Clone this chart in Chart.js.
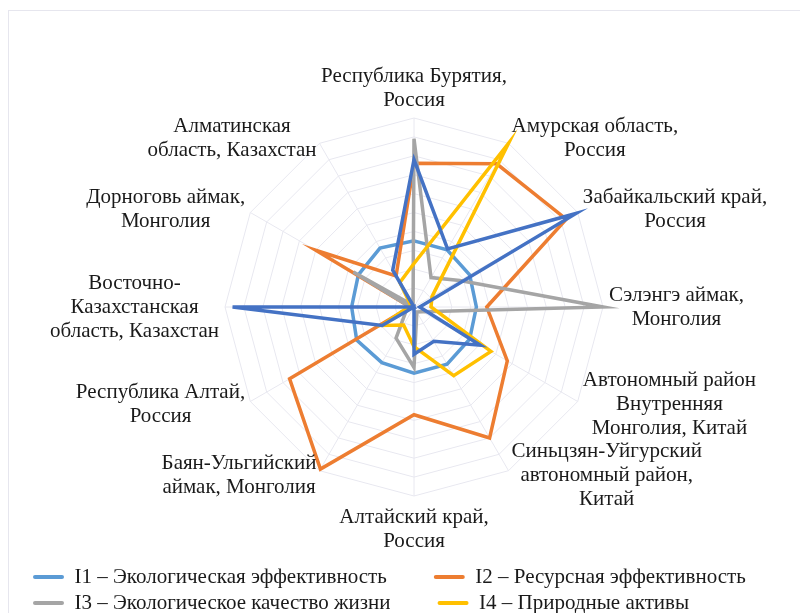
<!DOCTYPE html>
<html>
<head>
<meta charset="utf-8">
<script src="https://cdn.jsdelivr.net/npm/chart.js@4.4.1/dist/chart.umd.min.js"></script>
<style>
    html, body { margin: 0; padding: 0; background: #fff; overflow: hidden; }
    #frame { position: absolute; left: 8px; top: 10px; width: 900px; height: 900px; border: 1px solid #e6e6ee; }
    #wrap { position: absolute; left: 0; top: 0; width: 810px; height: 640px; }
</style>
</head>
<body>
<div id="frame"></div>
<div id="wrap"><canvas id="myChart"></canvas></div>
<script>
    const regions = [
        ['Республика Бурятия,', 'Россия'],
        ['Амурская область,', 'Россия'],
        ['Забайкальский край,', 'Россия'],
        ['Сэлэнгэ аймак,', 'Монголия'],
        ['Автономный район', 'Внутренняя', 'Монголия, Китай'],
        ['Синьцзян-Уйгурский', 'автономный район,', 'Китай'],
        ['Алтайский край,', 'Россия'],
        ['Баян-Ульгийский', 'аймак, Монголия'],
        ['Республика Алтай,', 'Россия'],
        ['Восточно-', 'Казахстанская', 'область, Казахстан'],
        ['Дорноговь аймак,', 'Монголия'],
        ['Алматинская', 'область, Казахстан']
    ];

    const seriesNames = [
        'I1 – Экологическая эффективность',
        'I2 – Ресурсная эффективность',
        'I3 – Экологическое качество жизни',
        'I4 – Природные активы',
        'I5'
    ];

    const i1 = [0.35, 0.35, 0.34, 0.33, 0.34, 0.35, 0.35, 0.34, 0.35, 0.33, 0.34, 0.36];
    const i2 = [0.76, 0.875, 0.93, 0.385, 0.57, 0.80, 0.57, 0.99, 0.76, 0.02, 0.60, 0.19];
    const i3 = [0.89, 0.18, 0.28, 1.0, 0.05, 0.03, 0.32, 0.19, 0.05, 0.02, 0.37, 0.01];
    const i4 = [0.23, 1.0, 0.11, 0.09, 0.47, 0.42, 0.21, 0.11, 0.195, 0.03, 0.02, 0.15];
    const i5 = [0.78, 0.355, 0.99, 0.03, 0.405, 0.21, 0.25, 0.0, 0.195, 0.96, 0.0, 0.225];

    const colors = ['#5b9bd5', '#ed7d31', '#a5a5a5', '#ffc000', '#4472c4'];
    const FONT = '"Liberation Serif", "Times New Roman", serif';
    const FONT_SIZE = 21;
    const TEXT = '#1a1a1a';

    // category labels placed like office charts: sides are centred vertically on the spoke
    const spokeLabels = {
        id: 'spokeLabels',
        afterDraw(chart) {
            const scale = chart.scales.r;
            const ctx = chart.ctx;
            const lineH = 24;
            const pad = 6;
            ctx.save();
            ctx.font = FONT_SIZE + 'px ' + FONT;
            ctx.fillStyle = TEXT;
            ctx.textAlign = 'center';
            ctx.textBaseline = 'middle';
            regions.forEach((lines, i) => {
                const a = scale.getIndexAngle(i);
                const p = scale.getPointPosition(i, scale.drawingArea + pad);
                const w = Math.max(...lines.map(t => ctx.measureText(t).width));
                const h = lines.length * lineH;
                const s = Math.sin(a);
                const c = Math.cos(a);
                let cx = p.x;
                let cy = p.y;
                if (Math.abs(s) < 0.01) {
                    cy = c > 0 ? p.y - h / 2 : p.y + h / 2 + 3;
                } else {
                    cx = p.x + Math.sign(s) * w / 2;
                }
                lines.forEach((t, k) => {
                    ctx.fillText(t, cx, cy - h / 2 + lineH * (k + 0.5));
                });
            });
            ctx.restore();
        }
    };

    const values = [i1, i2, i3, i4, i5];
    const datasets = values.map((v, k) => ({
        label: seriesNames[k],
        data: v,
        borderColor: colors[k],
        backgroundColor: colors[k],
        borderWidth: 3.5,
        pointRadius: 0,
        fill: false,
        order: values.length - k
    }));

    const ctx = document.getElementById('myChart');
    const myChart = new Chart(ctx, {
        type: 'radar',
        data: {
            labels: regions,
            datasets: datasets
        },
        options: {
            responsive: true,
            maintainAspectRatio: false,
            animation: false,
            layout: {
                padding: { top: 118, left: 28, right: 10, bottom: 16.5 }
            },
            scales: {
                r: {
                    min: 0,
                    max: 1,
                    ticks: { display: false, stepSize: 0.1 },
                    grid: { color: '#e8e8f0', lineWidth: 1 },
                    angleLines: { color: '#e8e8f0', lineWidth: 1 },
                    pointLabels: { display: false }
                }
            },
            plugins: {
                tooltip: { enabled: false },
                legend: {
                    position: 'bottom',
                    align: 'start',
                    title: {
                        display: true,
                        text: '',
                        font: { family: FONT, size: FONT_SIZE },
                        padding: { top: 40.3, bottom: 0 }
                    },
                    labels: {
                        font: { family: FONT, size: FONT_SIZE },
                        color: TEXT,
                        boxWidth: 31,
                        boxHeight: 4,
                        padding: 5,
                        sort: (a, b) => a.datasetIndex - b.datasetIndex,
                        filter: item => item.datasetIndex < 4,
                        generateLabels: chart => {
                            const items = Chart.defaults.plugins.legend.labels.generateLabels(chart);
                            return items.map(item => {
                                item.lineWidth = 0;
                                item.borderRadius = 2;
                                // left column gets extra room so the second column lines up
                                if (item.datasetIndex % 2 === 0) {
                                    item.text = item.text + '\u2003\u2003';
                                }
                                return item;
                            });
                        }
                    }
                }
            }
        },
        plugins: [spokeLabels]
    });
</script>
</body>
</html>
